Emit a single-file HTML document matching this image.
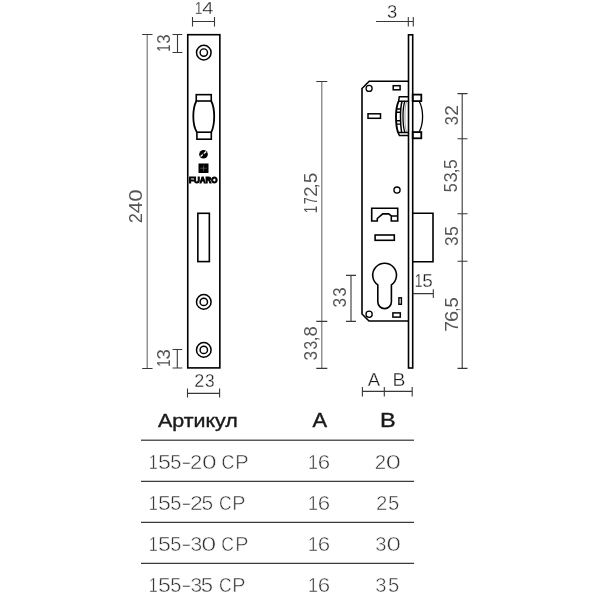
<!DOCTYPE html>
<html><head><meta charset="utf-8"><style>
html,body{margin:0;padding:0;background:#fff;width:600px;height:600px;overflow:hidden}
svg{display:block}
text{font-family:"Liberation Sans",sans-serif}
text.t{stroke:none}
text.w2{stroke:#fff;stroke-width:0.3px;stroke-linejoin:round}
text.w{stroke:#fff;stroke-width:0.5px;stroke-linejoin:round}
text.h{stroke:#1a1a1a;stroke-width:0.4px}
svg{will-change:transform}
</style></head><body>
<svg width="600" height="600" viewBox="0 0 600 600">
<rect width="600" height="600" fill="#fff"/>
<rect x="187.75" y="34.7" width="32.1" height="333.2" fill="none" stroke="#000" stroke-width="1.6"/>
<circle cx="203.8" cy="52.6" r="7.3" fill="none" stroke="#000" stroke-width="1.5"/>
<circle cx="203.8" cy="52.6" r="3.7" fill="none" stroke="#000" stroke-width="1.45"/>
<circle cx="203.8" cy="301.9" r="7.3" fill="none" stroke="#000" stroke-width="1.5"/>
<circle cx="203.8" cy="301.9" r="3.7" fill="none" stroke="#000" stroke-width="1.45"/>
<circle cx="203.8" cy="349.9" r="7.3" fill="none" stroke="#000" stroke-width="1.5"/>
<circle cx="203.8" cy="349.9" r="3.7" fill="none" stroke="#000" stroke-width="1.45"/>
<rect x="196.25" y="94.65" width="15" height="6.35" fill="none" stroke="#000" stroke-width="1.6"/>
<rect x="196.9" y="132.2" width="14.4" height="7" fill="none" stroke="#000" stroke-width="1.6"/>
<path d="M196.4,101 C194,105.5 193.3,110 193.3,116.5 C193.3,123 194,127.5 196.9,132.2 M211.2,101 C213.5,105.5 214.2,110 214.2,116.5 C214.2,123 213.5,127.5 211.3,132.2" fill="none" stroke="#000" stroke-width="1.8"/>
<circle cx="203.5" cy="154.3" r="4.3" fill="#000"/>
<path d="M200.6,156.6 L206.2,151.6" stroke="#fff" stroke-width="1.3"/><circle cx="203.4" cy="154.1" r="0.9" fill="#000"/>
<rect x="198.5" y="163.5" width="10" height="9.5" fill="#000"/>
<path d="M200.3,168.2 H206.7 M203.5,165.3 V171.2" stroke="#666" stroke-width="0.7"/>
<text class="b" transform="translate(189.06,183.00) scale(0.9183,1)" font-size="8.72" font-weight="bold" fill="#000" stroke="#000" stroke-width="1">FUARO</text>
<rect x="197.85" y="213.3" width="11.5" height="48.3" fill="none" stroke="#000" stroke-width="1.6"/>
<path d="M192.5,21.5 H214.5 M192.5,17 V26.5 M214.5,17 V26.5" stroke="#383838" stroke-width="1.1" fill="none"/>
<text class="w2" transform="translate(194.74,14.40) scale(0.8046,1)" font-size="17.30" fill="#1c1c1c">1</text><text class="w2" transform="translate(202.34,14.40) scale(1.1703,1)" font-size="17.30" fill="#1c1c1c">4</text>
<path d="M147.2,34.5 V368.5" stroke="#6c6c6c" stroke-width="1.1"/><path d="M142.2,34.5 H152.5 M142.2,368.5 H152.5" stroke="#383838" stroke-width="1.1" fill="none"/>
<text class="t" transform="translate(142.30,223.22) rotate(-90) scale(1.0191,1)" font-size="17.88" fill="#555">2</text><text class="t" transform="translate(142.30,213.17) rotate(-90) scale(1.1544,1)" font-size="17.88" fill="#555">4</text><text class="t" transform="translate(142.30,201.87) rotate(-90) scale(1.2520,1)" font-size="17.88" fill="#555">0</text>
<path d="M177.5,34.5 V52.5 M172.5,34.5 H182.3 M172.5,52.5 H182.3" stroke="#383838" stroke-width="1.1" fill="none"/>
<text class="t" transform="translate(170.00,51.79) rotate(-90) scale(0.7447,1)" font-size="17.44" fill="#555">1</text><text class="t" transform="translate(170.00,43.64) rotate(-90) scale(0.9674,1)" font-size="17.44" fill="#555">3</text>
<path d="M177.3,349.5 V368 M172.5,349.5 H182.3 M172.5,368 H182.3" stroke="#383838" stroke-width="1.1" fill="none"/>
<text class="t" transform="translate(170.00,366.79) rotate(-90) scale(0.7447,1)" font-size="17.44" fill="#555">1</text><text class="t" transform="translate(170.00,359.51) rotate(-90) scale(1.0641,1)" font-size="17.44" fill="#555">3</text>
<path d="M187.5,393.4 H219.6 M187.5,388.4 V397.6 M219.6,388.4 V397.6" stroke="#383838" stroke-width="1.1" fill="none"/>
<text class="w2" transform="translate(194.29,387.40) scale(1.0320,1)" font-size="17.44" fill="#1c1c1c">2</text><text class="w2" transform="translate(204.94,387.40) scale(0.9916,1)" font-size="17.44" fill="#1c1c1c">3</text>
<rect x="408.5" y="34.8" width="4.2" height="333.2" fill="none" stroke="#000" stroke-width="1.6"/>
<path d="M408.5,81.3 H369.2 L362,88.5 V314 L369,321 H408.5" fill="none" stroke="#000" stroke-width="1.6"/>
<circle cx="369.1" cy="88.4" r="3.0" fill="none" stroke="#000" stroke-width="1.3"/>
<circle cx="369.1" cy="314.3" r="3.1" fill="none" stroke="#000" stroke-width="1.3"/>
<circle cx="397" cy="190.1" r="3.1" fill="none" stroke="#000" stroke-width="1.3"/>
<rect x="393.2" y="85.7" width="6.9" height="4.1" fill="none" stroke="#000" stroke-width="1.5"/>
<rect x="368" y="113.8" width="12.5" height="4.5" fill="none" stroke="#000" stroke-width="1.5"/>
<path d="M408.5,96.7 H399.3 L398.6,101.3 H408.5 M408.5,135.5 H399.4 L398.0,132.4 H408.5" fill="none" stroke="#000" stroke-width="1.5"/>
<path d="M398.6,101.3 C396.25,106.3 396.0,108.5 396.0,116.5 C396.0,124.5 396.25,127.4 398.0,132.4" fill="none" stroke="#000" stroke-width="1.9"/>
<path d="M402.0,101.3 C400.75,106.3 400.5,108.5 400.5,116.5 C400.5,124.5 400.75,127.4 401.6,132.4" fill="none" stroke="#000" stroke-width="1.5"/>
<path d="M404.8,101.3 C403.25,106.3 403.0,108.5 403.0,116.5 C403.0,124.5 403.25,127.4 404.8,132.4" fill="none" stroke="#000" stroke-width="1.3"/>
<path d="M406.6,101.3 C405.25,106.3 405.0,108.5 405.0,116.5 C405.0,124.5 405.25,127.4 406.6,132.4" fill="none" stroke="#555" stroke-width="0.6"/>
<path d="M396.6,109 H401 M396.4,112.3 H400.7 M396.4,120.8 H400.7 M396.6,124.1 H401" fill="none" stroke="#000" stroke-width="1.4"/>
<rect x="412.7" y="94.6" width="8.6" height="6.5" fill="none" stroke="#000" stroke-width="1.8"/>
<rect x="412.7" y="132.1" width="8.6" height="6.2" fill="none" stroke="#000" stroke-width="1.8"/>
<path d="M419.2,101.2 C421.8,106 422.6,111 422.6,116.6 C422.6,122 421.8,127 419.2,132" fill="none" stroke="#000" stroke-width="1.3"/>
<path d="M371.7,208.3 H397.7 V221 H391.3 V216 L388.7,213.9 H382.7 L377.3,218.5 V221 H371.7 Z M391.3,216 H397.7" fill="none" stroke="#000" stroke-width="1.6"/>
<rect x="375.1" y="235" width="19.2" height="5.3" fill="none" stroke="#000" stroke-width="1.6"/>
<path d="M413,213.3 H433 V261.7 H413" fill="none" stroke="#000" stroke-width="1.6"/>
<path d="M377.8,284.87 A11.9,11.9 0 1 1 391.4,284.87 V301.8 A6.8,6.8 0 0 1 377.8,301.8 Z" fill="none" stroke="#000" stroke-width="1.6"/>
<rect x="398.9" y="297.8" width="2.5" height="6.5" fill="none" stroke="#000" stroke-width="1.4"/>
<rect x="392.9" y="312.9" width="7.4" height="4.2" fill="none" stroke="#000" stroke-width="1.5"/>
<path d="M376,21.5 H413.5 M408.3,17 V26.5 M413.3,17 V26.5" stroke="#383838" stroke-width="1.1" fill="none"/>
<text class="w2" transform="translate(386.95,17.50) scale(1.0370,1)" font-size="17.80" fill="#1c1c1c">3</text>
<path d="M321.8,81.5 V368.4" stroke="#6c6c6c" stroke-width="1.1"/><path d="M316.3,81.5 H327.3 M316.3,321.4 H327.3 M316.3,368.4 H327.3" stroke="#383838" stroke-width="1.1" fill="none"/>
<text class="t" transform="translate(316.90,213.22) rotate(-90) scale(0.7345,1)" font-size="18.31" fill="#555">1</text><text class="t" transform="translate(316.90,204.34) rotate(-90) scale(0.6846,1)" font-size="18.31" fill="#555">7</text><text class="t" transform="translate(316.90,196.63) rotate(-90) scale(1.0128,1)" font-size="18.31" fill="#555">2</text><text class="t" transform="translate(316.90,188.26) rotate(-90) scale(0.9458,1)" font-size="18.31" fill="#555">,</text><text class="t" transform="translate(316.90,183.04) rotate(-90) scale(1.0135,1)" font-size="18.31" fill="#555">5</text>
<text class="t" transform="translate(317.10,360.45) rotate(-90) scale(0.9111,1)" font-size="18.75" fill="#555">3</text><text class="t" transform="translate(317.10,349.49) rotate(-90) scale(0.8212,1)" font-size="18.75" fill="#555">3</text><text class="t" transform="translate(317.10,341.45) rotate(-90) scale(0.9781,1)" font-size="18.75" fill="#555">,</text><text class="t" transform="translate(317.10,336.41) rotate(-90) scale(0.9888,1)" font-size="18.75" fill="#555">8</text>
<path d="M351,275.4 V321.4 M346,275.4 H356 M346,321.4 H356" stroke="#383838" stroke-width="1.1" fill="none"/>
<text class="t" transform="translate(345.90,307.56) rotate(-90) scale(0.9566,1)" font-size="18.08" fill="#555">3</text><text class="t" transform="translate(345.90,296.74) rotate(-90) scale(0.9333,1)" font-size="18.08" fill="#555">3</text>
<path d="M413,293.6 H433.3 M433.3,289.3 V298" stroke="#383838" stroke-width="1.1" fill="none"/>
<text class="w2" transform="translate(414.74,287.40) scale(0.7721,1)" font-size="18.02" fill="#1c1c1c">1</text><text class="w2" transform="translate(422.24,287.40) scale(1.0532,1)" font-size="18.02" fill="#1c1c1c">5</text>
<path d="M362.4,391.4 H412.2 M362.4,387 V396.6 M384.3,387 V396.6 M412.2,387 V396.6" stroke="#383838" stroke-width="1.1" fill="none"/>
<text class="w2" transform="translate(367.66,385.80) scale(1.0547,1)" font-size="17.59" fill="#1c1c1c">A</text>
<text class="w2" transform="translate(392.51,385.80) scale(1.1004,1)" font-size="17.59" fill="#1c1c1c">B</text>
<path d="M462.2,93.6 V368.4 M457.5,93.6 H467.5 M457.5,138.7 H467.5 M457.5,213.7 H467.5 M457.5,261.3 H467.5 M457.5,368.4 H467.5" stroke="#383838" stroke-width="1.1" fill="none"/>
<text class="t" transform="translate(457.70,125.33) rotate(-90) scale(0.9244,1)" font-size="17.80" fill="#555">3</text><text class="t" transform="translate(457.70,115.76) rotate(-90) scale(1.0731,1)" font-size="17.80" fill="#555">2</text>
<text class="t" transform="translate(457.30,192.35) rotate(-90) scale(0.9311,1)" font-size="17.44" fill="#555">5</text><text class="t" transform="translate(457.30,182.40) rotate(-90) scale(1.0520,1)" font-size="17.44" fill="#555">3</text><text class="t" transform="translate(457.30,173.26) rotate(-90) scale(0.9931,1)" font-size="17.44" fill="#555">,</text><text class="t" transform="translate(457.30,169.00) rotate(-90) scale(1.0037,1)" font-size="17.44" fill="#555">5</text>
<text class="t" transform="translate(457.80,246.06) rotate(-90) scale(0.9566,1)" font-size="18.08" fill="#555">3</text><text class="t" transform="translate(457.80,236.01) rotate(-90) scale(0.9800,1)" font-size="18.08" fill="#555">5</text>
<text class="t" transform="translate(457.70,331.68) rotate(-90) scale(1.0618,1)" font-size="18.02" fill="#555">7</text><text class="t" transform="translate(457.70,322.02) rotate(-90) scale(1.1183,1)" font-size="18.02" fill="#555">6</text><text class="t" transform="translate(457.70,311.49) rotate(-90) scale(0.7349,1)" font-size="18.02" fill="#555">,</text><text class="t" transform="translate(457.70,307.43) rotate(-90) scale(1.0181,1)" font-size="18.02" fill="#555">5</text>
<path d="M141,440.2 H414" stroke="#5a5a5a" stroke-width="1.4"/>
<path d="M141,481.4 H414" stroke="#3a3a3a" stroke-width="1.3"/>
<path d="M141,522.4 H414" stroke="#3a3a3a" stroke-width="1.3"/>
<path d="M141,563.4 H414" stroke="#3a3a3a" stroke-width="1.3"/>
<text class="h" transform="translate(157.96,427.00) scale(1.1118,1)" font-size="19.26" font-weight="normal" fill="#1a1a1a">Артикул</text>
<text class="h" transform="translate(312.46,427.00) scale(1.1144,1)" font-size="19.62" font-weight="normal" fill="#1a1a1a">A</text>
<text class="h" transform="translate(380.07,427.00) scale(1.1969,1)" font-size="19.62" font-weight="normal" fill="#1a1a1a">B</text>
<text class="w" transform="translate(148.76,468.80) scale(0.7866,1)" font-size="20.64" fill="#333">1</text><text class="w" transform="translate(158.07,468.80) scale(1.1241,1)" font-size="20.64" fill="#333">5</text><text class="w" transform="translate(170.20,468.80) scale(0.9708,1)" font-size="20.64" fill="#333">5</text><text class="w" transform="translate(181.13,468.80) scale(1.4884,1)" font-size="20.64" fill="#333">-</text><text class="w" transform="translate(189.90,468.80) scale(1.0635,1)" font-size="20.64" fill="#333">2</text><text class="w" transform="translate(201.97,468.80) scale(1.2771,1)" font-size="20.64" fill="#333">0</text><text class="w" transform="translate(221.60,468.80) scale(0.8607,1)" font-size="20.64" fill="#333">C</text><text class="w" transform="translate(235.27,468.80) scale(0.9649,1)" font-size="20.64" fill="#333">P</text>
<text class="w" transform="translate(307.94,468.80) scale(0.8653,1)" font-size="20.64" fill="#333">1</text><text class="w" transform="translate(317.87,468.80) scale(1.0815,1)" font-size="20.64" fill="#333">6</text>
<text class="w" transform="translate(374.67,468.80) scale(0.9891,1)" font-size="20.64" fill="#333">2</text><text class="w" transform="translate(385.64,468.80) scale(1.3176,1)" font-size="20.64" fill="#333">0</text>
<text class="w" transform="translate(148.76,509.70) scale(0.7978,1)" font-size="20.35" fill="#333">1</text><text class="w" transform="translate(158.07,509.70) scale(1.1401,1)" font-size="20.35" fill="#333">5</text><text class="w" transform="translate(170.20,509.70) scale(0.9847,1)" font-size="20.35" fill="#333">5</text><text class="w" transform="translate(181.13,509.70) scale(1.5096,1)" font-size="20.35" fill="#333">-</text><text class="w" transform="translate(190.09,509.70) scale(1.1326,1)" font-size="20.35" fill="#333">2</text><text class="w" transform="translate(201.46,509.70) scale(1.0313,1)" font-size="20.35" fill="#333">5</text><text class="w" transform="translate(218.91,509.70) scale(0.8613,1)" font-size="20.35" fill="#333">C</text><text class="w" transform="translate(232.18,509.70) scale(0.9695,1)" font-size="20.35" fill="#333">P</text>
<text class="w" transform="translate(307.94,509.70) scale(0.8776,1)" font-size="20.35" fill="#333">1</text><text class="w" transform="translate(317.87,509.70) scale(1.0970,1)" font-size="20.35" fill="#333">6</text>
<text class="w" transform="translate(376.07,509.70) scale(1.0032,1)" font-size="20.35" fill="#333">2</text><text class="w" transform="translate(387.89,509.70) scale(0.9950,1)" font-size="20.35" fill="#333">5</text>
<text class="w" transform="translate(148.76,550.70) scale(0.7978,1)" font-size="20.35" fill="#333">1</text><text class="w" transform="translate(158.07,550.70) scale(1.1401,1)" font-size="20.35" fill="#333">5</text><text class="w" transform="translate(170.20,550.70) scale(0.9847,1)" font-size="20.35" fill="#333">5</text><text class="w" transform="translate(181.13,550.70) scale(1.5096,1)" font-size="20.35" fill="#333">-</text><text class="w" transform="translate(190.45,550.70) scale(1.0313,1)" font-size="20.35" fill="#333">3</text><text class="w" transform="translate(201.25,550.70) scale(1.3261,1)" font-size="20.35" fill="#333">0</text><text class="w" transform="translate(221.31,550.70) scale(0.8613,1)" font-size="20.35" fill="#333">C</text><text class="w" transform="translate(235.13,550.70) scale(0.9695,1)" font-size="20.35" fill="#333">P</text>
<text class="w" transform="translate(307.94,550.70) scale(0.8776,1)" font-size="20.35" fill="#333">1</text><text class="w" transform="translate(317.87,550.70) scale(1.0970,1)" font-size="20.35" fill="#333">6</text>
<text class="w" transform="translate(375.23,550.70) scale(0.9950,1)" font-size="20.35" fill="#333">3</text><text class="w" transform="translate(386.59,550.70) scale(1.2747,1)" font-size="20.35" fill="#333">0</text>
<text class="w" transform="translate(148.76,591.60) scale(0.7866,1)" font-size="20.64" fill="#333">1</text><text class="w" transform="translate(158.07,591.60) scale(1.1241,1)" font-size="20.64" fill="#333">5</text><text class="w" transform="translate(170.20,591.60) scale(0.9708,1)" font-size="20.64" fill="#333">5</text><text class="w" transform="translate(181.13,591.60) scale(1.4884,1)" font-size="20.64" fill="#333">-</text><text class="w" transform="translate(190.45,591.60) scale(1.0168,1)" font-size="20.64" fill="#333">3</text><text class="w" transform="translate(200.86,591.60) scale(1.0730,1)" font-size="20.64" fill="#333">5</text><text class="w" transform="translate(218.91,591.60) scale(0.8492,1)" font-size="20.64" fill="#333">C</text><text class="w" transform="translate(232.18,591.60) scale(0.9558,1)" font-size="20.64" fill="#333">P</text>
<text class="w" transform="translate(307.94,591.60) scale(0.8653,1)" font-size="20.64" fill="#333">1</text><text class="w" transform="translate(317.87,591.60) scale(1.0815,1)" font-size="20.64" fill="#333">6</text>
<text class="w" transform="translate(375.23,591.60) scale(0.9810,1)" font-size="20.64" fill="#333">3</text><text class="w" transform="translate(387.89,591.60) scale(0.9810,1)" font-size="20.64" fill="#333">5</text>
</svg>
</body></html>
